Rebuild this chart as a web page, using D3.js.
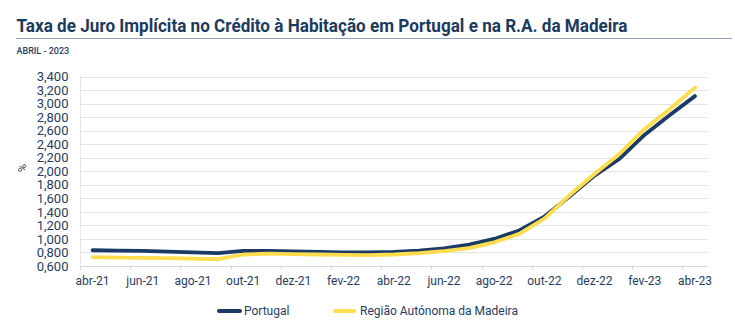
<!DOCTYPE html>
<html>
<head>
<meta charset="utf-8">
<script src="https://cdn.jsdelivr.net/npm/d3@7"></script>
<style>
  html, body { margin: 0; padding: 0; background: #ffffff; }
  svg { display: block; }
  text { font-family: Roboto, "Noto Sans", sans-serif; }
</style>
</head>
<body>
<svg id="chart" width="735" height="326"></svg>
<script>
const months = ["abr-21","mai-21","jun-21","jul-21","ago-21","set-21","out-21","nov-21","dez-21",
  "jan-22","fev-22","mar-22","abr-22","mai-22","jun-22","jul-22","ago-22","set-22","out-22","nov-22","dez-22",
  "jan-23","fev-23","mar-23","abr-23"];
const portugal = [0.833,0.828,0.822,0.812,0.802,0.790,0.822,0.822,0.816,0.810,0.802,0.800,0.808,0.828,0.862,
  0.915,1.000,1.125,1.330,1.625,1.935,2.185,2.540,2.830,3.110];
const madeira = [0.730,0.725,0.720,0.715,0.710,0.700,0.770,0.782,0.775,0.770,0.765,0.762,0.770,0.790,0.820,
  0.865,0.950,1.075,1.300,1.645,1.960,2.260,2.625,2.920,3.235];
const yTicks = [0.6,0.8,1.0,1.2,1.4,1.6,1.8,2.0,2.2,2.4,2.6,2.8,3.0,3.2,3.4];
const seriesNames = ["Portugal","Região Autónoma da Madeira"];
const titleText = "Taxa de Juro Implícita no Crédito à Habitação em Portugal e na R.A. da Madeira";
const subtitleText = "ABRIL - 2023";
const yAxisLabel = "%";

const colors = ["#1b3a66", "#fddc4e"];
const textColor = "#1f3d66";

const svg = d3.select("#chart");

// Title
svg.append("text").attr("x", 16.5).attr("y", 31.5)
  .attr("font-size", 17.5).attr("font-weight", 700).attr("fill", "#1c3a5e")
  .attr("textLength", 611).attr("lengthAdjust", "spacingAndGlyphs")
  .text(titleText);
svg.append("line").attr("x1", 16).attr("x2", 732).attr("y1", 38.5).attr("y2", 38.5)
  .attr("stroke", "#8ea2c0").attr("stroke-width", 1);
svg.append("text").attr("x", 16.5).attr("y", 54)
  .attr("font-size", 9).attr("font-weight", 500).attr("fill", textColor)
  .text(subtitleText);

// Scales
const x = d3.scaleBand().domain(months).range([80, 707.5]).paddingInner(0).paddingOuter(0);
const y = d3.scaleLinear().domain([0.6, 3.4]).range([266, 76.5]);

// Gridlines
svg.append("g").selectAll("line").data(yTicks).join("line")
  .attr("x1", 80).attr("x2", 707.5)
  .attr("y1", d => Math.round(y(d)) + 0.5).attr("y2", d => Math.round(y(d)) + 0.5)
  .attr("stroke", "#e4e4e4").attr("stroke-width", 1);

// Left axis line
svg.append("line").attr("x1", 80.5).attr("x2", 80.5).attr("y1", 76).attr("y2", 270)
  .attr("stroke", "#e4e4e4");

// Y axis labels
const fmt = d => d3.format(".3f")(d).replace(".", ",");
svg.append("g").selectAll("text").data(yTicks).join("text")
  .attr("x", 68.5).attr("y", d => y(d)).attr("dy", "0.36em")
  .attr("text-anchor", "end").attr("font-size", 13).attr("fill", textColor)
  .text(d => fmt(d));

svg.append("text").attr("transform", "translate(26,168) rotate(-90)")
  .attr("text-anchor", "middle").attr("font-size", 11).attr("fill", textColor)
  .text(yAxisLabel);

// X axis baseline
svg.append("line").attr("x1", 80).attr("x2", 707.5).attr("y1", 266.5).attr("y2", 266.5)
  .attr("stroke", "#d9d9d9");

// X ticks (boundaries every 2 months)
const tickIdx = months.map((m, i) => i).filter(i => i % 2 === 0);
svg.append("g").selectAll("line").data(tickIdx).join("line")
  .attr("x1", i => Math.round(x(months[i])) + 0.5).attr("x2", i => Math.round(x(months[i])) + 0.5)
  .attr("y1", 266).attr("y2", 270)
  .attr("stroke", "#d9d9d9");

// X labels
svg.append("g").selectAll("text").data(tickIdx).join("text")
  .attr("x", i => x(months[i]) + x.bandwidth() / 2).attr("y", 285)
  .attr("text-anchor", "middle").attr("font-size", 12).attr("fill", textColor)
  .text(i => months[i]);

// Lines
const line = d3.line()
  .x((d, i) => x(months[i]) + x.bandwidth() / 2)
  .y(d => y(d));

[portugal, madeira].forEach((s, k) => {
  svg.append("path").datum(s)
    .attr("d", line)
    .attr("fill", "none").attr("stroke", colors[k]).attr("stroke-width", 3.8)
    .attr("stroke-linejoin", "round").attr("stroke-linecap", "round");
});

// Legend
const legendItems = [
  {name: seriesNames[0], color: colors[0], x1: 219, x2: 240, tx: 244},
  {name: seriesNames[1], color: colors[1], x1: 335, x2: 354, tx: 360}
];
const lg = svg.append("g");
legendItems.forEach(it => {
  lg.append("line").attr("x1", it.x1).attr("x2", it.x2).attr("y1", 311).attr("y2", 311)
    .attr("stroke", it.color).attr("stroke-width", 4).attr("stroke-linecap", "round");
  lg.append("text").attr("x", it.tx).attr("y", 311).attr("dy", "0.35em")
    .attr("font-size", 12).attr("fill", textColor).text(it.name);
});
</script>
</body>
</html>
